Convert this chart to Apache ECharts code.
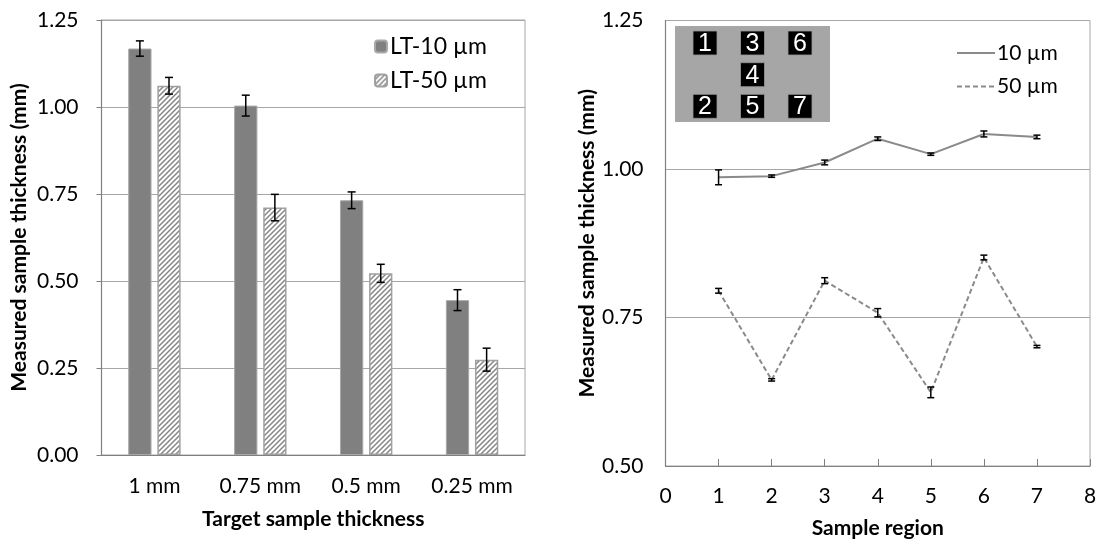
<!DOCTYPE html>
<html>
<head>
<meta charset="utf-8">
<style>html,body{margin:0;padding:0;background:#fff}#c{width:1102px;height:544px}</style>
<script src="https://cdn.jsdelivr.net/npm/echarts@6/dist/echarts.min.js"></script>
</head>
<body>
<div id="c"></div>
<script>
// ---- Data ----
const categories = ['1 mm', '0.75 mm', '0.5 mm', '0.25 mm'];
const lt10 = [1.168, 1.004, 0.732, 0.445];
const lt10Err = [0.022, 0.030, 0.024, 0.030];
const lt50 = [1.061, 0.711, 0.522, 0.274];
const lt50Err = [0.024, 0.038, 0.026, 0.033];
const leftTicks = [0, 1.25, 0.25];

const regions = [1, 2, 3, 4, 5, 6, 7];
const um10 = [0.986, 0.988, 1.011, 1.051, 1.025, 1.059, 1.054];
const um10Err = [0.0125, 0.002, 0.004, 0.003, 0.002, 0.005, 0.003];
const um50 = [0.795, 0.645, 0.812, 0.758, 0.624, 0.851, 0.701];
const um50Err = [0.004, 0.002, 0.005, 0.007, 0.009, 0.004, 0.002];
const rightTicks = [0.5, 1.25, 0.25];
const rightX = [0, 8, 1];

const regionLabels = [['1', '3', '6'], ['', '4', ''], ['2', '5', '7']];

// ---- hatch pattern ----
function hatch() {
  const s = 5;
  const cv = document.createElement('canvas');
  cv.width = s; cv.height = s;
  const g = cv.getContext('2d');
  g.fillStyle = '#fff'; g.fillRect(0, 0, s, s);
  g.strokeStyle = '#858585'; g.lineWidth = 1.5;
  g.beginPath();
  g.moveTo(0, s); g.lineTo(s, 0);
  g.moveTo(-1, 1); g.lineTo(1, -1);
  g.moveTo(s - 1, s + 1); g.lineTo(s + 1, s - 1);
  g.stroke();
  return cv;
}
const FONT = 'Lato';
const chart = echarts.init(document.getElementById('c'), null, {renderer: 'canvas'});

function errRender(offsetFrac, cap) {
  return function (params, api) {
    const x = api.value(0), lo = api.value(1), hi = api.value(2);
    const p1 = api.coord([x, lo]);
    const p2 = api.coord([x, hi]);
    let off = 0;
    if (offsetFrac !== 0) off = api.size([1, 0])[0] * offsetFrac;
    const cx = p1[0] + off;
    const st = {stroke: '#000', lineWidth: 1.5};
    return {type: 'group', children: [
      {type: 'line', shape: {x1: cx, y1: p1[1], x2: cx, y2: p2[1]}, style: st},
      {type: 'line', shape: {x1: cx - cap, y1: p1[1], x2: cx + cap, y2: p1[1]}, style: st},
      {type: 'line', shape: {x1: cx - cap, y1: p2[1], x2: cx + cap, y2: p2[1]}, style: st}
    ]};
  };
}
const err10 = lt10.map((v, i) => [i, v - lt10Err[i], v + lt10Err[i]]);
const err50 = lt50.map((v, i) => [i, v - lt50Err[i], v + lt50Err[i]]);
const errR10 = um10.map((v, i) => [regions[i], v - um10Err[i], v + um10Err[i]]);
const errR50 = um50.map((v, i) => [regions[i], v - um50Err[i], v + um50Err[i]]);

const axisLabelStyle = {color: '#000', fontSize: 21, fontFamily: FONT};
const nameStyle = {color: '#000', fontSize: 21, fontWeight: 'bold', fontFamily: FONT};

// inset graphics
const insetChildren = [{type: 'rect', shape: {x: 675, y: 26, width: 155, height: 96}, style: {fill: '#a6a6a6'}}];
const colX = [693, 740.5, 788], rowY = [31, 62.7, 94.3];
regionLabels.forEach((row, r) => row.forEach((t, c) => {
  if (!t) return;
  insetChildren.push({type: 'rect', shape: {x: colX[c], y: rowY[r], width: 24, height: 24}, style: {fill: '#000', stroke: '#9a9a9a', lineWidth: 0.8}});
  insetChildren.push({type: 'text', x: colX[c] + 12, y: rowY[r] + 13, z: 10,
    style: {text: t, fill: '#fff', fontSize: 25, fontFamily: 'Liberation Sans', align: 'center', verticalAlign: 'middle'}});
}));

chart.setOption({
  animation: false,
  textStyle: {fontFamily: FONT},
  grid: [
    {left: 101.5, right: 577, top: 20, bottom: 89, show: true, borderColor: '#a6a6a6', borderWidth: 1},
    {left: 665.5, right: 12, top: 20.5, bottom: 77.5, show: true, borderColor: '#a6a6a6', borderWidth: 1}
  ],
  legend: [
    {data: ['LT-10 µm', 'LT-50 µm'], orient: 'vertical', left: 374, top: 35, padding: 0, itemWidth: 12, itemHeight: 12, itemGap: 11,
     textStyle: {fontSize: 23, color: '#000', fontFamily: FONT, padding: [0, 0, 0, -2]}},
    {data: ['10 µm', '50 µm'], orient: 'vertical', left: 956, top: 42.5, padding: 0, itemWidth: 38, itemHeight: 12, itemGap: 12.5,
     itemStyle: {opacity: 0},
     textStyle: {fontSize: 21, color: '#000', fontFamily: FONT, padding: [0, 0, 0, -3]}}
  ],
  xAxis: [
    {type: 'category', gridIndex: 0, data: categories,
     axisLine: {lineStyle: {color: '#808080', width: 1.2}}, axisTick: {show: false},
     axisLabel: Object.assign({margin: 21}, axisLabelStyle),
     name: 'Target sample thickness', nameLocation: 'middle', nameGap: 54, nameTextStyle: nameStyle},
    {type: 'value', gridIndex: 1, min: rightX[0], max: rightX[1], interval: rightX[2],
     splitLine: {show: false},
     axisLine: {lineStyle: {color: '#808080', width: 1.2}},
     axisTick: {show: true, inside: true, length: 7, lineStyle: {color: '#808080'}},
     axisLabel: Object.assign({margin: 20}, axisLabelStyle),
     name: 'Sample region', nameLocation: 'middle', nameGap: 52, nameTextStyle: nameStyle}
  ],
  yAxis: [
    {type: 'value', gridIndex: 0, min: leftTicks[0], max: leftTicks[1], interval: leftTicks[2],
     axisLine: {show: true, lineStyle: {color: '#808080', width: 1.2}},
     axisTick: {show: true, length: 5, lineStyle: {color: '#808080'}},
     splitLine: {lineStyle: {color: '#a6a6a6', width: 1}},
     axisLabel: Object.assign({margin: 23, formatter: v => v.toFixed(2)}, axisLabelStyle),
     name: 'Measured sample thickness (mm)', nameLocation: 'middle', nameGap: 72, nameTextStyle: nameStyle},
    {type: 'value', gridIndex: 1, min: rightTicks[0], max: rightTicks[1], interval: rightTicks[2],
     axisLine: {show: true, lineStyle: {color: '#808080', width: 1.2}},
     axisTick: {show: false},
     splitLine: {lineStyle: {color: '#a6a6a6', width: 1}},
     axisLabel: Object.assign({margin: 22, formatter: v => v.toFixed(2)}, axisLabelStyle),
     name: 'Measured sample thickness (mm)', nameLocation: 'middle', nameGap: 68, nameTextStyle: nameStyle}
  ],
  graphic: [{type: 'group', children: insetChildren}],
  series: [
    {name: 'LT-10 µm', type: 'bar', xAxisIndex: 0, yAxisIndex: 0, data: lt10, barWidth: '22%', barGap: '25%',
     itemStyle: {color: '#808080', borderColor: '#a8a8a8', borderWidth: 1}},
    {name: 'LT-50 µm', type: 'bar', xAxisIndex: 0, yAxisIndex: 0, data: lt50, barWidth: '22%', barGap: '25%',
     itemStyle: {color: {image: hatch(), repeat: 'repeat'}, borderColor: '#a0a0a0', borderWidth: 1.5}},
    {type: 'custom', xAxisIndex: 0, yAxisIndex: 0, data: err10, renderItem: errRender(-0.1375, 4), z: 5,
     encode: {x: 0, y: [1, 2]}},
    {type: 'custom', xAxisIndex: 0, yAxisIndex: 0, data: err50, renderItem: errRender(0.1375, 4), z: 5,
     encode: {x: 0, y: [1, 2]}},
    {name: '10 µm', type: 'line', xAxisIndex: 1, yAxisIndex: 1, data: regions.map((r, i) => [r, um10[i]]),
     symbol: 'none', lineStyle: {color: '#8a8a8a', width: 2}, itemStyle: {color: '#8a8a8a'}},
    {name: '50 µm', type: 'line', xAxisIndex: 1, yAxisIndex: 1, data: regions.map((r, i) => [r, um50[i]]),
     symbol: 'none', lineStyle: {color: '#8a8a8a', width: 2, type: [5, 3]}, itemStyle: {color: '#8a8a8a'}},
    {type: 'custom', xAxisIndex: 1, yAxisIndex: 1, data: errR10, renderItem: errRender(0, 3.5), z: 5,
     encode: {x: 0, y: [1, 2]}},
    {type: 'custom', xAxisIndex: 1, yAxisIndex: 1, data: errR50, renderItem: errRender(0, 3.5), z: 5,
     encode: {x: 0, y: [1, 2]}}
  ]
});
</script>
</body>
</html>
